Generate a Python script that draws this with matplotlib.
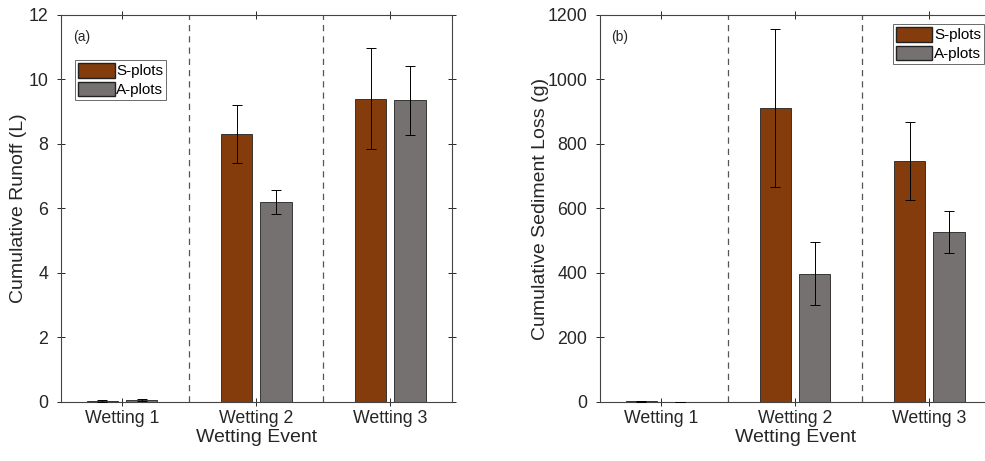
import numpy as np
import matplotlib.pyplot as plt
from matplotlib.patches import Patch

plt.rcParams['font.family'] = ['Liberation Sans', 'DejaVu Sans']

events = ['Wetting 1', 'Wetting 2', 'Wetting 3']

# runoff (L)
runoff_s = [0.03, 8.3, 9.4]
runoff_s_err = [0.02, 0.9, 1.57]
runoff_a = [0.06, 6.2, 9.35]
runoff_a_err = [0.04, 0.38, 1.08]

# sediment loss (g)
sed_s = [2, 912, 747]
sed_s_err = [1, 245, 121]
sed_a = [1, 398, 527]
sed_a_err = [0.5, 97, 66]

c_s = '#843C0C'
c_a = '#767171'

fig = plt.figure(figsize=(9.85, 4.61), dpi=100)
ax1 = fig.add_axes([0.0619, 0.128, 0.397, 0.8395])
ax2 = fig.add_axes([0.609, 0.128, 0.397, 0.8395])

x = np.arange(1, 4)
w = 0.235
off = 0.146


def panel(ax, s, se, a, ae, ylim, yticks, ylabel, ylab_x, tag, leg_anchor):
    ax.bar(x - off, s, w, color=c_s, edgecolor='#222222', linewidth=0.6, zorder=2)
    ax.bar(x + off, a, w, color=c_a, edgecolor='#222222', linewidth=0.6, zorder=2)
    ax.errorbar(x - off, s, yerr=se, fmt='none', ecolor='black', elinewidth=0.7, capsize=3.5, capthick=0.7, zorder=3)
    ax.errorbar(x + off, a, yerr=ae, fmt='none', ecolor='black', elinewidth=0.7, capsize=3.5, capthick=0.7, zorder=3)
    for xv in [1.5, 2.5]:
        ax.axvline(xv, color='#555555', linestyle=(0, (5, 4)), linewidth=0.9, zorder=1)
    ax.set_xlim(0.545, 3.46)
    ax.set_ylim(*ylim)
    ax.set_yticks(yticks)
    ax.set_xticks(x)
    ax.set_xticklabels(events)
    ax.tick_params(direction='inout', top=True, right=True, labelsize=12.8, colors='#262626', length=6, width=0.7)
    ax.tick_params(axis='y', pad=6)
    ax.tick_params(axis='x', pad=3)
    for sp in ax.spines.values():
        sp.set_color('#444444')
        sp.set_linewidth(0.8)
    ax.set_ylabel(ylabel, fontsize=14, color='#262626')
    ax.yaxis.set_label_coords(ylab_x, 0.5)
    ax.set_xlabel('Wetting Event', fontsize=14, color='#262626', labelpad=1)
    ax.text(0.03, 0.96, tag, transform=ax.transAxes, fontsize=10, va='top', ha='left', color='#262626')
    handles = [Patch(facecolor=c_s, edgecolor='#222222', label='S-plots'),
               Patch(facecolor=c_a, edgecolor='#222222', label='A-plots')]
    leg = ax.legend(handles=handles, loc='upper left', bbox_to_anchor=leg_anchor, fontsize=11,
                    frameon=True, fancybox=False, edgecolor='#444444', borderpad=0.2, labelspacing=0.2,
                    handlelength=2.4, handleheight=1.1, handletextpad=0.1, borderaxespad=0)
    leg.get_frame().set_linewidth(0.7)


panel(ax1, runoff_s, runoff_s_err, runoff_a, runoff_a_err, (0, 12), np.arange(0, 13, 2),
      'Cumulative Runoff (L)', -0.087, '(a)', (0.036, 0.884))
panel(ax2, sed_s, sed_s_err, sed_a, sed_a_err, (0, 1200), np.arange(0, 1201, 200),
      'Cumulative Sediment Loss (g)', -0.130, '(b)', (0.749, 0.977))

fig.savefig('out.png', dpi=100)
